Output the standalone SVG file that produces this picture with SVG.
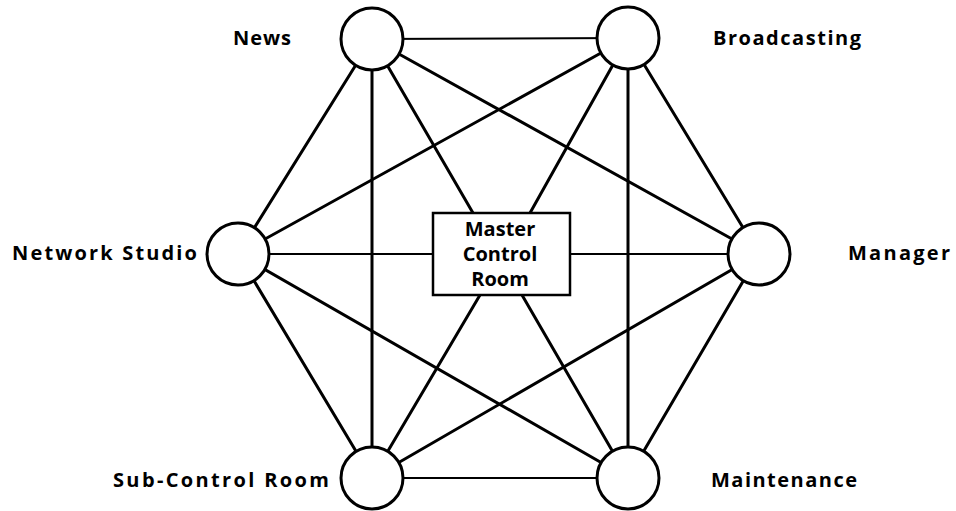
<svg xmlns="http://www.w3.org/2000/svg" width="956" height="511" viewBox="0 0 956 511">
<style>
.ln{stroke:#000;stroke-width:3;fill:none;stroke-linecap:round}
.thin{stroke:#000;stroke-width:2;fill:none}
.nd{fill:#fff;stroke:#000;stroke-width:3}
.lb{font-family:"Open Sans","DejaVu Sans",sans-serif;font-weight:700;font-size:20px;fill:#000}
.bx{font-family:"Open Sans","DejaVu Sans",sans-serif;font-weight:700;font-size:20px;fill:#000;text-anchor:middle}
</style>
<rect width="956" height="511" fill="#fff"/>
<g id="connectors">
<line class="thin" x1="372" y1="39" x2="628" y2="38"/>
<line class="ln" x1="372" y1="39" x2="238" y2="254"/>
<line class="ln" x1="372" y1="39" x2="372" y2="478"/>
<line class="ln" x1="372" y1="39" x2="473" y2="213"/>
<line class="ln" x1="372" y1="39" x2="759" y2="254"/>
<line class="ln" x1="628" y1="38" x2="238" y2="254"/>
<line class="ln" x1="628" y1="38" x2="530" y2="213"/>
<line class="ln" x1="628" y1="38" x2="628" y2="478"/>
<line class="ln" x1="628" y1="38" x2="759" y2="254"/>
<line class="thin" x1="238" y1="254" x2="433" y2="254"/>
<line class="ln" x1="238" y1="254" x2="372" y2="478"/>
<line class="ln" x1="238" y1="254" x2="628" y2="478"/>
<line class="thin" x1="570" y1="254" x2="759" y2="254"/>
<line class="ln" x1="759" y1="254" x2="628" y2="478"/>
<line class="ln" x1="759" y1="254" x2="372" y2="478"/>
<line class="ln" x1="372" y1="478" x2="480" y2="295"/>
<line class="ln" x1="628" y1="478" x2="522" y2="295"/>
<line class="thin" x1="372" y1="478" x2="628" y2="478"/>
</g>
<g id="master">
<rect x="433" y="213" width="137" height="82" fill="#fff" stroke="#000" stroke-width="2.5"/>
<text class="bx" x="500" y="236">Master</text>
<text class="bx" x="500" y="261">Control</text>
<text class="bx" x="500" y="286">Room</text>
</g>
<g id="news">
<circle class="nd" cx="372" cy="39" r="31"/>
<text class="lb" x="233" y="45" textLength="58" lengthAdjust="spacing">News</text>
</g>
<g id="broadcasting">
<circle class="nd" cx="628" cy="38" r="31"/>
<text class="lb" x="713" y="45" textLength="148" lengthAdjust="spacing">Broadcasting</text>
</g>
<g id="network-studio">
<circle class="nd" cx="238" cy="254" r="31"/>
<text class="lb" x="12" y="260" textLength="185" lengthAdjust="spacing">Network Studio</text>
</g>
<g id="manager">
<circle class="nd" cx="759" cy="254" r="31"/>
<text class="lb" x="848" y="260" textLength="102" lengthAdjust="spacing">Manager</text>
</g>
<g id="sub-control-room">
<circle class="nd" cx="372" cy="478" r="31"/>
<text class="lb" x="113" y="487" textLength="216" lengthAdjust="spacing">Sub-Control Room</text>
</g>
<g id="maintenance">
<circle class="nd" cx="628" cy="478" r="31"/>
<text class="lb" x="711" y="487" textLength="146" lengthAdjust="spacing">Maintenance</text>
</g>
</svg>
